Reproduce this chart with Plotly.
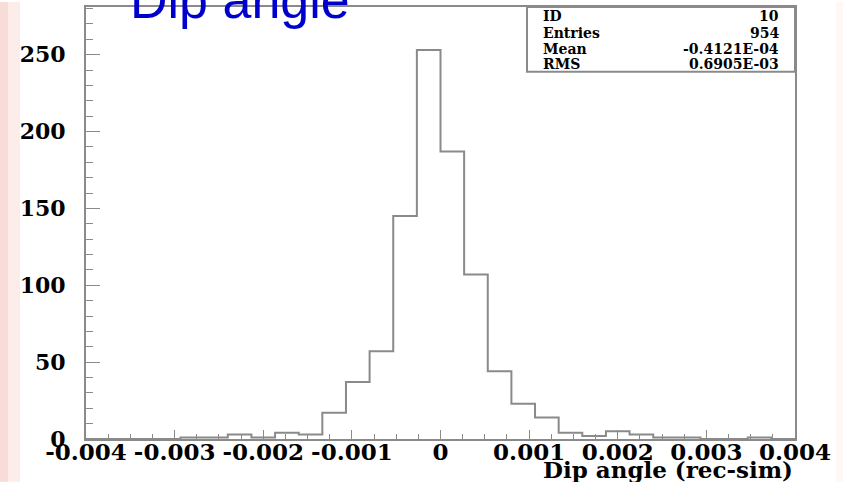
import numpy as np
import plotly.graph_objects as go

# Histogram definition: 30 equal bins over [-0.004, 0.004]
x_lo, x_hi, n_bins = -0.004, 0.004, 30
counts = [0, 0, 0, 0, 1, 1, 3, 1, 4, 3,
          17, 37, 57, 145, 253, 187, 107, 44, 23, 14,
          4, 2, 5, 3, 1, 1, 0, 0, 1, 0]

# Axis ticks
x_tickvals = [-0.004, -0.003, -0.002, -0.001, 0, 0.001, 0.002, 0.003, 0.004]
x_ticktext = ["-0.004", "-0.003", "-0.002", "-0.001", "0", "0.001", "0.002", "0.003", "0.004"]
y_tickvals = [0, 50, 100, 150, 200, 250]

# Statistics panel
stat_labels = ["ID", "Entries", "Mean", "RMS"]
stat_values = ["10", "954", "-0.4121E-04", "0.6905E-03"]

title_text = "Dip angle"
x_title = "Dip angle (rec-sim)"

W, H = 843, 482
ML, MR, MT, MB = 86, 48, 5, 43
PW, PH = W - ML - MR, H - MT - MB

edges = np.linspace(x_lo, x_hi, n_bins + 1)
step_x = list(edges)
step_y = list(counts) + [counts[-1]]

grey = "#8a8a8a"
serif_bold = dict(family="DejaVu Serif", color="black", weight="bold")

fig = go.Figure()
fig.add_trace(go.Scatter(
    x=step_x, y=step_y, mode="lines", line_shape="hv",
    line=dict(color=grey, width=2), hoverinfo="skip", showlegend=False,
))

def px_x(p):
    return (p - ML) / PW

def px_y(p):
    return (H - MB - p) / PH

# soft tinted edges of the page background
fig.add_shape(type="rect", xref="paper", yref="paper", layer="below",
              x0=px_x(0), x1=px_x(20), y0=px_y(H), y1=px_y(0),
              fillcolor="rgba(240,175,160,0.22)", line_width=0)
fig.add_shape(type="rect", xref="paper", yref="paper", layer="below",
              x0=px_x(0), x1=px_x(8), y0=px_y(H), y1=px_y(0),
              fillcolor="rgba(235,160,150,0.22)", line_width=0)
fig.add_shape(type="rect", xref="paper", yref="paper", layer="below",
              x0=px_x(836), x1=px_x(W), y0=px_y(H), y1=px_y(0),
              fillcolor="rgba(245,190,185,0.12)", line_width=0)

# statistics box
fig.add_shape(type="rect", xref="paper", yref="paper",
              x0=px_x(527), x1=1, y0=px_y(70), y1=1,
              line=dict(color=grey, width=2), fillcolor="rgba(0,0,0,0)")
row_y = [14, 31, 47, 62]
for lab, val, py in zip(stat_labels, stat_values, row_y):
    fig.add_annotation(xref="paper", yref="paper", x=px_x(541), y=px_y(py),
                       text=lab, showarrow=False, xanchor="left", yanchor="middle",
                       font=dict(serif_bold, size=14))
    fig.add_annotation(xref="paper", yref="paper", x=px_x(781), y=px_y(py),
                       text=val, showarrow=False, xanchor="right", yanchor="middle",
                       font=dict(serif_bold, size=14))

# x-axis title at lower right
fig.add_annotation(xref="paper", yref="paper", x=px_x(668), y=px_y(470),
                   text=x_title, showarrow=False, xanchor="center", yanchor="middle",
                   font=dict(serif_bold, size=23))

# blue heading over the frame
fig.add_annotation(xref="paper", yref="paper", x=px_x(240), y=1,
                   text=title_text, showarrow=False, xanchor="center", yanchor="middle",
                   yshift=7, font=dict(family="Liberation Sans", size=52, color="rgb(0,0,205)"))

fig.update_layout(
    xaxis=dict(
        range=[x_lo, x_hi], tickmode="array", tickvals=x_tickvals, ticktext=x_ticktext,
        showgrid=False, zeroline=False, showline=True, mirror=True,
        linecolor=grey, linewidth=2,
        ticks="inside", ticklen=9, tickwidth=1, tickcolor=grey,
        minor=dict(dtick=0.00025, tick0=0, ticks="inside", ticklen=5, tickcolor=grey,
                   tickwidth=1, showgrid=False),
        tickfont=dict(serif_bold, size=23), ticklabelstandoff=-9,
    ),
    yaxis=dict(
        range=[0, 281], tickmode="array", tickvals=y_tickvals,
        showgrid=False, zeroline=False, showline=True, mirror=True,
        linecolor=grey, linewidth=2,
        ticks="inside", ticklen=14, tickwidth=1, tickcolor=grey,
        minor=dict(dtick=10, tick0=0, ticks="inside", ticklen=7, tickcolor=grey,
                   tickwidth=1, showgrid=False),
        tickfont=dict(serif_bold, size=22), ticklabelstandoff=14,
    ),
    width=W, height=H, margin=dict(l=ML, r=MR, t=MT, b=MB),
    paper_bgcolor="white", plot_bgcolor="white", showlegend=False,
)
fig.write_html("out.html")
